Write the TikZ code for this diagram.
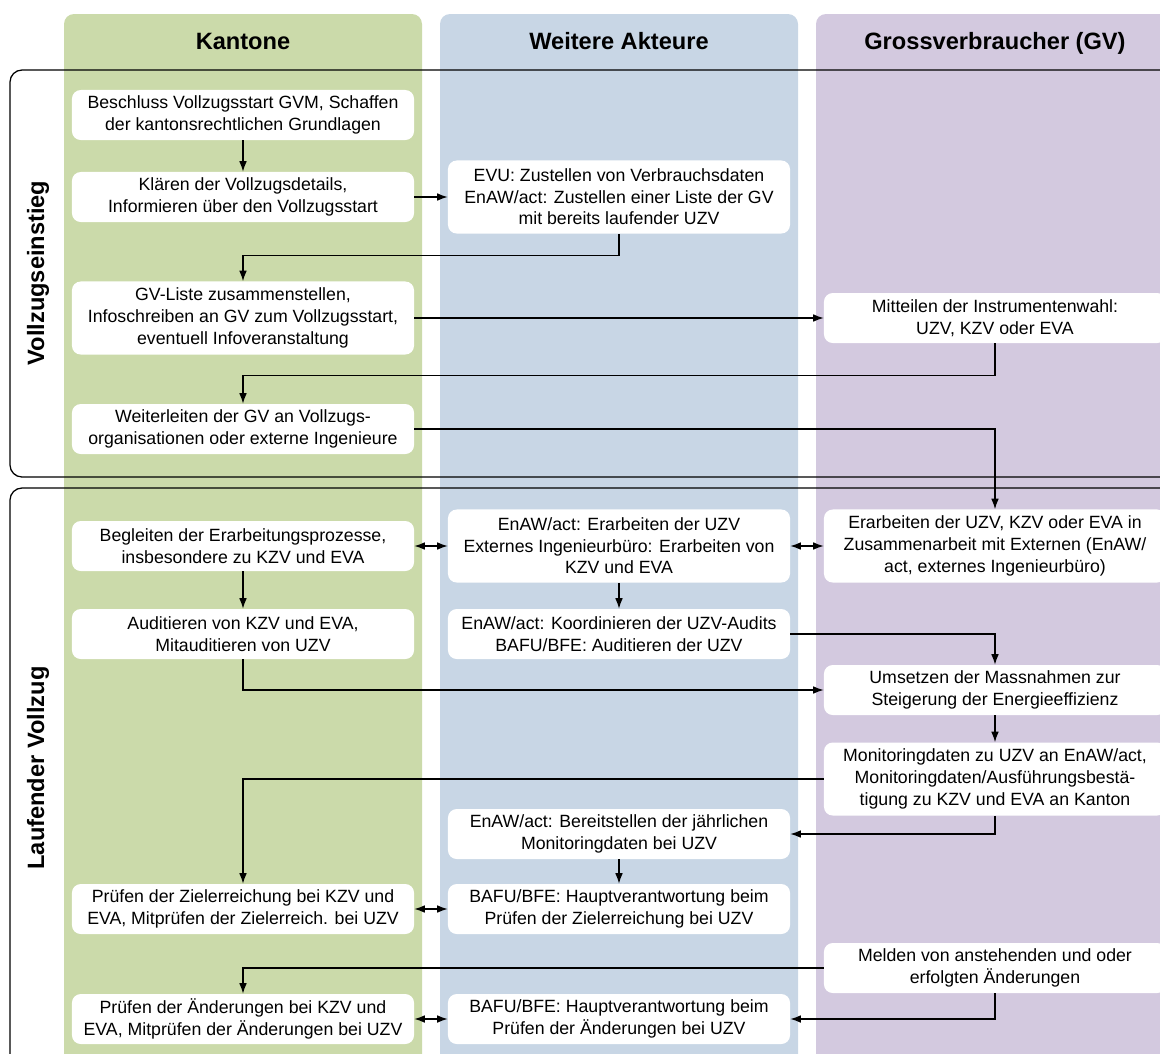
\documentclass[tikz,border=0pt]{standalone}
\usepackage{fontspec}
\setmainfont{Liberation Sans}
\usepackage{tikz}
\usetikzlibrary{arrows.meta}
\definecolor{kgreen}{RGB}{203,218,170}
\definecolor{wblue}{RGB}{200,214,229}
\definecolor{gviolet}{RGB}{211,201,223}

\begin{document}
\begin{tikzpicture}[x=0.025cm, y=-0.025cm,
            box/.style={shape=rectangle, fill=white, rounded corners=0.22cm, minimum width=8.55cm, minimum height=1.25cm, inner sep=2pt, align=center, font=\fontsize{12.6}{15.4}\selectfont},
            tall/.style={box, minimum height=1.825cm},
            head/.style={font=\fontsize{16.8}{20}\selectfont\bfseries},
            flow/.style={line width=0.9pt, -{Latex[length=7.5pt,width=5.5pt]}},
            twoway/.style={line width=0.9pt, {Latex[length=7.5pt,width=5.5pt]}-{Latex[length=7.5pt,width=5.5pt]}},
            phase/.style={line width=0.9pt, rounded corners=0.3cm}]
        \useasboundingbox (0,0) rectangle (1160,1054);
        \clip (0,0) rectangle (1160,1054);

        % columns
        \fill[kgreen, rounded corners=0.25cm] (64,1090) -- (64,14) -- (422,14) -- (422,1090) -- cycle;
        \fill[wblue, rounded corners=0.25cm] (440,1090) -- (440,14) -- (798,14) -- (798,1090) -- cycle;
        \fill[gviolet, rounded corners=0.25cm] (816,1090) -- (816,14) -- (1200,14) -- (1200,1090) -- cycle;

        \node[head, anchor=base] (hKant) at (243,49) {Kantone};
        \node[head, anchor=base] (hWeit) at (619,49) {Weitere Akteure};
        \node[head, anchor=base] (hGross) at (995,49) {Grossverbraucher (GV)};

        % phases
        \draw[phase] (1200,70) -- (10,70) -- (10,477) -- (1200,477);
        \draw[phase] (1200,488) -- (10,488) -- (10,1090);
        \node[head, rotate=90] (lEin) at (38,273) {Vollzugseinstieg};
        \node[head, rotate=90] (lLauf) at (38,768) {Laufender Vollzug};

        % Kantone
        \node[box] (kBeschluss) at (243,115) {Beschluss Vollzugsstart GVM, Schaffen\\der kantonsrechtlichen Grundlagen};
        \node[box] (kKlaeren) at (243,197) {Klären der Vollzugsdetails,\\Informieren über den Vollzugsstart};
        \node[tall] (kListe) at (243,318) {GV-Liste zusammenstellen,\\Infoschreiben an GV zum Vollzugsstart,\\eventuell Infoveranstaltung};
        \node[box] (kWeiter) at (243,429) {Weiterleiten der GV an Vollzugs-\\organisationen oder externe Ingenieure};
        \node[box] (kBegleiten) at (243,546) {Begleiten der Erarbeitungsprozesse,\\insbesondere zu KZV und EVA};
        \node[box] (kAudit) at (243,634) {Auditieren von KZV und EVA,\\Mitauditieren von UZV};
        \node[box] (kZiel) at (243,909) {Prüfen der Zielerreichung bei KZV und\\EVA, Mitprüfen der Zielerreich. bei UZV};
        \node[box] (kAend) at (243,1019) {Prüfen der Änderungen bei KZV und\\EVA, Mitprüfen der Änderungen bei UZV};

        % Weitere Akteure
        \node[tall] (wDaten) at (619,197) {EVU: Zustellen von Verbrauchsdaten\\EnAW/act: Zustellen einer Liste der GV\\mit bereits laufender UZV};
        \node[tall] (wErarb) at (619,546) {EnAW/act: Erarbeiten der UZV\\Externes Ingenieurbüro: Erarbeiten von\\KZV und EVA};
        \node[box] (wAudit) at (619,634) {EnAW/act: Koordinieren der UZV-Audits\\BAFU/BFE: Auditieren der UZV};
        \node[box] (wMonit) at (619,834) {EnAW/act: Bereitstellen der jährlichen\\Monitoringdaten bei UZV};
        \node[box] (wZiel) at (619,909) {BAFU/BFE: Hauptverantwortung beim\\Prüfen der Zielerreichung bei UZV};
        \node[box] (wAend) at (619,1019) {BAFU/BFE: Hauptverantwortung beim\\Prüfen der Änderungen bei UZV};

        % Grossverbraucher
        \node[box] (gWahl) at (995,318) {Mitteilen der Instrumentenwahl:\\UZV, KZV oder EVA};
        \node[tall] (gErarb) at (995,546) {Erarbeiten der UZV, KZV oder EVA in\\Zusammenarbeit mit Externen (EnAW/\\act, externes Ingenieurbüro)};
        \node[box] (gUmsetz) at (995,690) {Umsetzen der Massnahmen zur\\Steigerung der Energieeffizienz};
        \node[tall] (gMonit) at (995,779) {Monitoringdaten zu UZV an EnAW/act,\\Monitoringdaten/Ausführungsbestä-\\tigung zu KZV und EVA an Kanton};
        \node[box] (gMeld) at (995,968) {Melden von anstehenden und oder\\erfolgten Änderungen};

        % connectors
        \draw[flow] (kBeschluss) -- (kKlaeren);
        \draw[flow] (kKlaeren) -- (wDaten);
        \draw[flow] (wDaten.south) -- ++(0,22) -| (kListe.north);
        \draw[flow] (kListe) -- (gWahl);
        \draw[flow] (gWahl.south) -- ++(0,32) -| (kWeiter.north);
        \draw[flow] (kWeiter.east) -| (gErarb.north);
        \draw[twoway] (kBegleiten) -- (wErarb);
        \draw[twoway] (wErarb) -- (gErarb);
        \draw[flow] (kBegleiten) -- (kAudit);
        \draw[flow] (wErarb) -- (wAudit);
        \draw[flow] (wAudit.east) -| (gUmsetz.north);
        \draw[flow] (kAudit.south) |- (gUmsetz.west);
        \draw[flow] (gUmsetz) -- (gMonit);
        \draw[flow] (gMonit.west) -| (kZiel.north);
        \draw[flow] (gMonit.south) |- (wMonit.east);
        \draw[flow] (wMonit) -- (wZiel);
        \draw[twoway] (kZiel) -- (wZiel);
        \draw[flow] (gMeld.west) -| (kAend.north);
        \draw[flow] (gMeld.south) |- (wAend.east);
        \draw[twoway] (kAend) -- (wAend);
    \end{tikzpicture}
\end{document}
